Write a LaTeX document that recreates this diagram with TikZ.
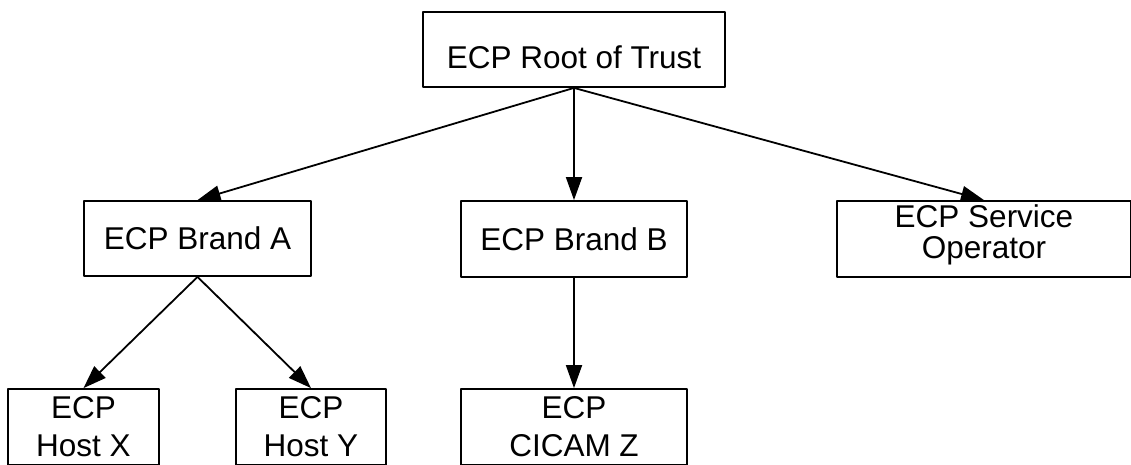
\documentclass[tikz,border=0pt]{standalone}
\usepackage{fontspec}
\setmainfont{Liberation Sans}
\usetikzlibrary{arrows.meta}
\begin{document}
\begin{tikzpicture}[x=1pt, y=-1pt, line width=1.8pt, line join=round,
			>={Triangle[length=23pt,width=16pt]},
			font=\fontsize{31.5}{31}\selectfont,
			cert/.style={draw, align=center, inner sep=0pt, minimum height=76pt},
			leaf/.style={cert, font=\fontsize{31.5}{38}\selectfont}]
			\useasboundingbox (0,0) rectangle (1131,464);
			\path (574,49.5) node[cert, minimum width=302pt, minimum height=75pt,
			text height=37pt, text depth=0pt] (root) {ECP Root of Trust}
			(197.5,238.5) node[cert, minimum width=227pt, minimum height=75pt] (brandA) {ECP Brand A}
			(574,239) node[cert, minimum width=226pt] (brandB) {ECP Brand B}
			(984,239) node[cert, minimum width=294pt, text depth=14.5pt] (operator) {ECP Service\\Operator}
			(83.5,427) node[leaf, minimum width=151pt] (hostX) {ECP\\Host X}
			(311,427) node[leaf, minimum width=150pt] (hostY) {ECP\\Host Y}
			(574,427) node[leaf, minimum width=226pt] (cicam) {ECP\\CICAM Z}
			;
			\foreach \a/\b in {root/brandA, root/brandB, root/operator,
				brandA/hostX, brandA/hostY, brandB/cicam}
			\draw[->] (\a.south) -- (\b.north);
		\end{tikzpicture}
\end{document}
